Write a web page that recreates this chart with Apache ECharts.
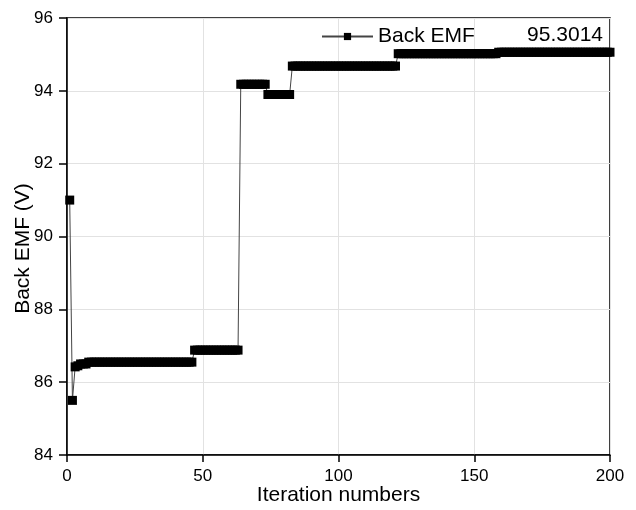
<!DOCTYPE html>
<html>
<head>
<meta charset="utf-8">
<script src="https://cdn.jsdelivr.net/npm/echarts@6/dist/echarts.min.js"></script>
<style>
  html, body { margin: 0; padding: 0; background: #fff; }
  #chart { width: 636px; height: 510px; }
</style>
</head>
<body>
<div id="chart"></div>
<script>
// plateaus: first iteration, last iteration, back EMF (V)
const runStart = [1, 2, 3, 4, 5, 8, 47, 64, 74, 83, 122, 159];
const runEnd = [1, 2, 3, 4, 7, 46, 63, 73, 82, 121, 158, 200];
const runValue = [91.0, 85.5, 86.42, 86.45, 86.5, 86.55, 86.88, 94.18, 93.9, 94.68, 95.02, 95.06];
const xTicks = [0, 50, 100, 150, 200];
const yTicks = [84, 86, 88, 90, 92, 94, 96];
const seriesName = "Back EMF";
const bestLabel = "95.3014";

const points = [];
runStart.forEach((start, k) => {
  for (let it = start; it <= runEnd[k]; it++) points.push([it, runValue[k]]);
});

const font = "'Liberation Sans', Arial, sans-serif";
const chart = echarts.init(document.getElementById("chart"));
chart.setOption({
  animation: false,
  textStyle: { fontFamily: font },
  grid: {
    left: 67, right: 26, top: 18, bottom: 55, outerBoundsMode: "none", containLabel: false,
    show: true, borderColor: "#000", borderWidth: 1.5
  },
  legend: {
    left: 316, top: 21, itemWidth: 51, itemHeight: 9, itemGap: 6,
    textStyle: { fontSize: 21, color: "#000", fontFamily: font },
    data: [seriesName]
  },
  graphic: [{
    type: "text", right: 33, top: 25,
    style: { text: bestLabel, fontSize: 21, fill: "#000", fontFamily: font }
  }],
  xAxis: {
    type: "value", min: xTicks[0], max: xTicks[xTicks.length - 1], interval: 50,
    name: "Iteration numbers", nameLocation: "middle", nameGap: 30, nameMoveOverlap: false,
    nameTextStyle: { fontSize: 21, color: "#000", fontFamily: font },
    axisLine: { onZero: false, lineStyle: { color: "#000", width: 1.5 } },
    axisTick: { show: true, length: 7, lineStyle: { color: "#000", width: 1.5 } },
    axisLabel: { fontSize: 17, color: "#000", margin: 13 },
    splitLine: { show: true, lineStyle: { color: "#e2e2e2", width: 1 } }
  },
  yAxis: {
    type: "value", min: yTicks[0], max: yTicks[yTicks.length - 1], interval: 2,
    name: "Back EMF (V)", nameLocation: "middle", nameGap: 33, nameMoveOverlap: false,
    nameTextStyle: { fontSize: 21, color: "#000", fontFamily: font, padding: [0, 24, 0, 0] },
    axisLine: { show: true, lineStyle: { color: "#000", width: 1.5 } },
    axisTick: { show: true, length: 8, lineStyle: { color: "#000", width: 1.5 } },
    axisLabel: { fontSize: 17, color: "#000", margin: 14 },
    splitLine: { show: true, lineStyle: { color: "#e2e2e2", width: 1 } }
  },
  series: [{
    name: seriesName,
    type: "line",
    data: points,
    symbol: "rect",
    symbolSize: [9, 9],
    showAllSymbol: true,
    clip: true,
    itemStyle: { color: "#000" },
    lineStyle: { color: "#444", width: 1 }
  }]
});
</script>
</body>
</html>
